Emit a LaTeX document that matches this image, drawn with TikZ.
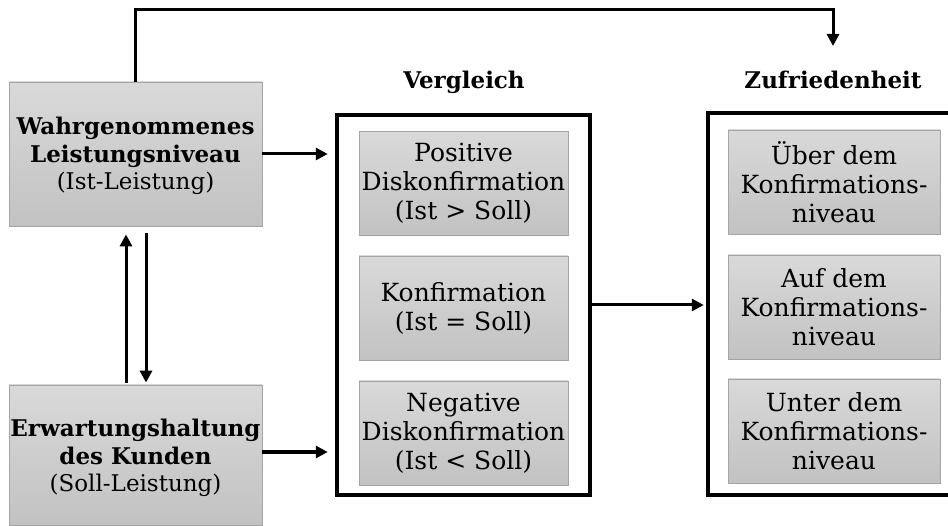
\documentclass[tikz,border=0pt]{standalone}
\usepackage{fontspec}
\setmainfont{DejaVu Serif}
\usetikzlibrary{arrows.meta}
\definecolor{gtop}{RGB}{217,217,217}
\definecolor{gbot}{RGB}{194,194,194}
\definecolor{gline}{RGB}{165,165,165}
\tikzset{
  graybox/.style={draw=gline, line width=0.8pt, top color=gtop, bottom color=gbot, align=center, inner sep=0pt},
  bigframe/.style={draw=black, line width=4.5pt, inner sep=0pt},
  conn/.style={line width=3pt, -{Triangle[length=12pt,width=12pt]}},
  smalltxt/.style={font=\fontsize{25}{29}\selectfont},
  lefttxt/.style={font=\fontsize{23}{27.5}\selectfont},
  lbl/.style={font=\fontsize{23}{26}\selectfont\bfseries}
}
\begin{document}
\begin{tikzpicture}[x=1pt,y=-1pt]
\useasboundingbox (0,0) rectangle (948,526);
\clip (0,0) rectangle (948,526);
% left boxes
\node[graybox, minimum width=253pt, minimum height=144pt] (A) at (135.5,154) {};
\node[lefttxt, align=center] (At) at (135.5,156)
  {\textbf{Wahrgenommenes}\\\textbf{Leistungsniveau}\\(Ist-Leistung)};
\node[graybox, minimum width=253pt, minimum height=140pt] (B) at (135.5,455) {};
\node[lefttxt, align=center] (Bt) at (135.5,458)
  {\textbf{Erwartungshaltung}\\\textbf{des Kunden}\\(Soll-Leistung)};
% Vergleich frame
\node[bigframe, minimum width=253pt, minimum height=380pt] (V) at (463.5,305) {};
\node[lbl] (Vl) at (464,82) {Vergleich};
\node[graybox, minimum width=209pt, minimum height=104pt, smalltxt] (V1) at (463.5,183.5)
  {Positive\\Diskonfirmation\\(Ist > Soll)};
\node[graybox, minimum width=209pt, minimum height=104pt, smalltxt] (V2) at (463.5,308)
  {Konfirmation\\(Ist = Soll)};
\node[graybox, minimum width=209pt, minimum height=104pt, smalltxt] (V3) at (463.5,433)
  {Negative\\Diskonfirmation\\(Ist < Soll)};
% Zufriedenheit frame
\node[bigframe, minimum width=250pt, minimum height=382pt] (Z) at (833,304) {};
\node[lbl] (Zl) at (833,80) {Zufriedenheit};
\node[graybox, minimum width=212pt, minimum height=104pt, smalltxt] (Z1) at (834,182)
  {Über dem\\Konfirmations-\\niveau};
\node[graybox, minimum width=212pt, minimum height=104pt, smalltxt] (Z2) at (834,307)
  {Auf dem\\Konfirmations-\\niveau};
\node[graybox, minimum width=212pt, minimum height=104pt, smalltxt] (Z3) at (834,431)
  {Unter dem\\Konfirmations-\\niveau};
% connectors
\coordinate (fb) at (833,46);
\draw[conn] (A.north) -- (A.north |- 0,10) -| (fb);
\draw[conn, shorten >=7pt] (A.east) -- (A.east -| V.west);
\draw[conn, shorten >=7pt] ([yshift=3pt]B.east) -- ([yshift=3pt]B.east -| V.west);
\draw[conn, shorten >=8pt, shorten <=2pt] ([xshift=-9.5pt]B.north) -- ([xshift=-9.5pt]B.north |- A.south);
\draw[conn, shorten >=2pt, shorten <=7pt] ([xshift=10.5pt]A.south) -- ([xshift=10.5pt]A.south |- B.north);
\draw[conn, shorten >=2pt] (V.east) -- (V.east -| Z.west);
\end{tikzpicture}
\end{document}
